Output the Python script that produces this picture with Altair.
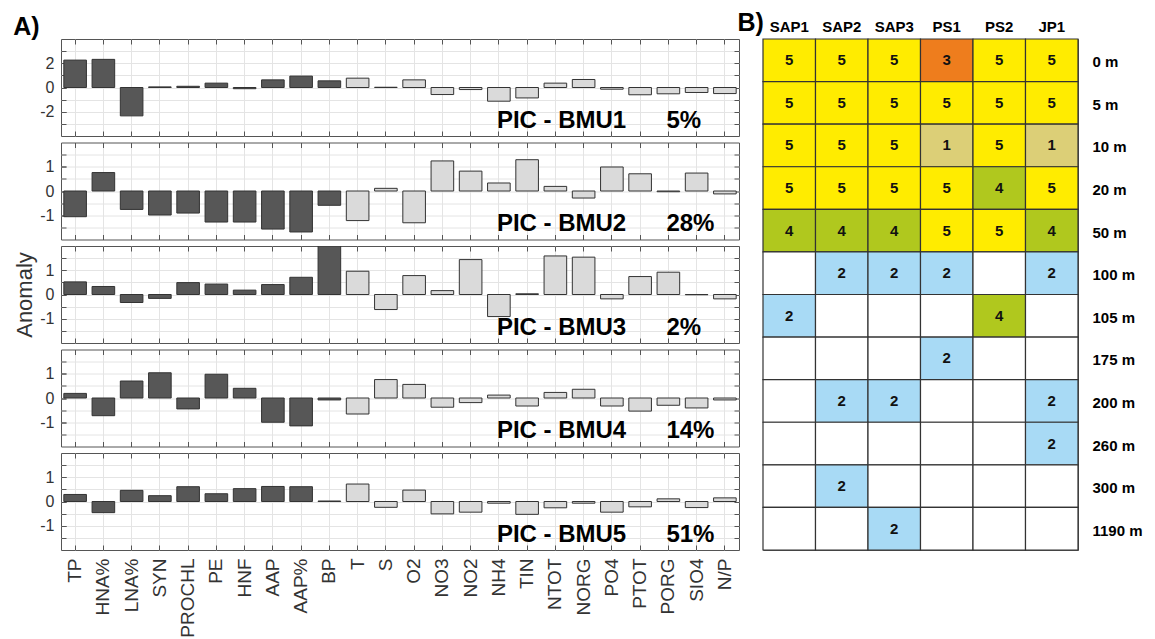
import altair as alt
import pandas as pd

FONT = "Liberation Sans"

# ---------------- Panel A data ----------------
variables = ["TP", "HNA%", "LNA%", "SYN", "PROCHL", "PE", "HNF", "AAP", "AAP%", "BP",
             "T", "S", "O2", "NO3", "NO2", "NH4", "TIN", "NTOT", "NORG", "PO4",
             "PTOT", "PORG", "SIO4", "N/P"]
var_groups = ["bio", "bio", "bio", "bio", "bio", "bio", "bio", "bio", "bio", "bio",
              "env", "env", "env", "env", "env", "env", "env", "env", "env", "env",
              "env", "env", "env", "env"]

bmu1 = [2.26, 2.32, -2.34, 0.05, 0.10, 0.36, -0.10, 0.63, 0.94, 0.55, 0.77, 0.02,
        0.63, -0.58, -0.17, -1.13, -0.86, 0.36, 0.66, -0.14, -0.60, -0.52, -0.41, -0.50]
bmu2 = [-1.06, 0.76, -0.76, -0.99, -0.91, -1.28, -1.28, -1.57, -1.69, -0.59, -1.22, 0.11,
        -1.31, 1.24, 0.82, 0.33, 1.29, 0.19, -0.29, 0.99, 0.71, -0.03, 0.74, -0.12]
bmu3 = [0.52, 0.33, -0.33, -0.16, 0.49, 0.43, 0.18, 0.41, 0.71, 2.00, 0.96, -0.62,
        0.78, 0.16, 1.44, -0.91, 0.03, 1.59, 1.54, -0.18, 0.74, 0.92, -0.01, -0.18]
bmu4 = [0.19, -0.73, 0.70, 1.04, -0.45, 0.98, 0.40, -1.00, -1.15, -0.08, -0.66, 0.76,
        0.56, -0.38, -0.19, 0.12, -0.33, 0.23, 0.36, -0.33, -0.54, -0.30, -0.41, -0.08]
bmu5 = [0.29, -0.46, 0.46, 0.24, 0.61, 0.32, 0.53, 0.62, 0.61, 0.02, 0.72, -0.24,
        0.47, -0.51, -0.44, -0.07, -0.53, -0.26, -0.07, -0.44, -0.22, 0.11, -0.25, 0.15]
series = [bmu1, bmu2, bmu3, bmu4, bmu5]

panel_names = ["PIC - BMU1", "PIC - BMU2", "PIC - BMU3", "PIC - BMU4", "PIC - BMU5"]
panel_pct = ["5%", "28%", "2%", "14%", "51%"]
y_domains = [[-4, 4], [-2, 2], [-2, 2], [-2, 2], [-2, 2]]
y_ticks_all = [[-3, -2, -1, 0, 1, 2, 3],
               [-1.5, -1, -0.5, 0, 0.5, 1, 1.5],
               [-1.5, -1, -0.5, 0, 0.5, 1, 1.5],
               [-1.5, -1, -0.5, 0, 0.5, 1, 1.5],
               [-1.5, -1, -0.5, 0, 0.5, 1, 1.5]]
y_ticks_major = [[-2, 0, 2], [-1, 0, 1], [-1, 0, 1], [-1, 0, 1], [-1, 0, 1]]

# ---------------- Panel B data ----------------
stations = ["SAP1", "SAP2", "SAP3", "PS1", "PS2", "JP1"]
depths = ["0 m", "5 m", "10 m", "20 m", "50 m", "100 m", "105 m", "175 m",
          "200 m", "260 m", "300 m", "1190 m"]
bmu_grid = [
    [5, 5, 5, 3, 5, 5],
    [5, 5, 5, 5, 5, 5],
    [5, 5, 5, 1, 5, 1],
    [5, 5, 5, 5, 4, 5],
    [4, 4, 4, 5, 5, 4],
    [None, 2, 2, 2, None, 2],
    [2, None, None, None, 4, None],
    [None, None, None, 2, None, None],
    [None, 2, 2, None, None, 2],
    [None, None, None, None, None, 2],
    [None, 2, None, None, None, None],
    [None, None, 2, None, None, None],
]
bmu_classes = ["1", "2", "3", "4", "5", ""]
bmu_colors = ["#dccf77", "#a8daf5", "#ee7d1d", "#b0c81e", "#ffec00", "#ffffff"]

# ---------------- Panel A ----------------
W, H = 678, 97
GRID = "#e4e4e4"
TICK = "#555555"
xscale = alt.Scale(domain=variables, paddingInner=0.2, paddingOuter=0.1)


def subplot(i):
    df = pd.DataFrame({"var": variables, "value": series[i], "group": var_groups})
    ydom = y_domains[i]
    yscale = alt.Scale(domain=ydom, nice=False, zero=False)
    last = i == len(series) - 1

    bars = alt.Chart(df).mark_bar(stroke="#333333", strokeWidth=1, clip=True).encode(
        x=alt.X("var:N", scale=xscale, title=None,
                axis=alt.Axis(orient="bottom", offset=-5, tickSize=5, tickColor=TICK,
                              domain=False, grid=True, gridColor=GRID, tickBand="center",
                              labels=last, labelAngle=-90, labelPadding=8, labelFontSize=19,
                              labelColor="#333333", labelOverlap=False, labelLimit=300)),
        y=alt.Y("value:Q", scale=yscale,
                title=("Anomaly" if i == 2 else None),
                axis=alt.Axis(orient="left", offset=-5, tickSize=5, tickColor=TICK,
                              values=y_ticks_major[i], labelExpr="'' + datum.value",
                              domain=False, grid=False,
                              labelOverlap=False, labelFontSize=16, labelColor="#333333",
                              labelPadding=7, titleFontSize=22, titleFontWeight="normal",
                              titleColor="#333333", titlePadding=3)),
        color=alt.Color("group:N", scale=alt.Scale(domain=["bio", "env"],
                                                   range=["#575757", "#dadada"]), legend=None),
    )

    ypos = ydom[0] + 0.0856 * (ydom[1] - ydom[0])
    tdf = pd.DataFrame({"var": ["NH4", "PORG"], "pos": [ypos, ypos],
                        "txt": [panel_names[i], panel_pct[i]]})
    texts = alt.Chart(tdf).mark_text(font=FONT, fontSize=24, fontWeight="bold", color="#000000",
                                     align="left", baseline="alphabetic", dx=-2).encode(
        x=alt.X("var:N", scale=xscale, axis=None),
        y=alt.Y("pos:Q", scale=yscale, axis=None),
        text="txt:N",
    )

    # frame ticks (top / right) + horizontal grid at every tick
    ghost = alt.Chart(df).mark_bar(opacity=0).encode(
        x=alt.X("var:N", scale=xscale, title=None,
                axis=alt.Axis(orient="top", offset=-5, tickSize=5, tickColor=TICK,
                              domain=False, grid=False, labels=False, tickBand="center")),
        y=alt.Y("value:Q", scale=yscale, title=None,
                axis=alt.Axis(orient="right", offset=-5, tickSize=5, tickColor=TICK,
                              values=y_ticks_all[i], domain=False, grid=True, gridColor=GRID,
                              labels=False)),
    )
    # minor ticks on the left side
    ghost2 = alt.Chart(df).mark_bar(opacity=0).encode(
        x=alt.X("var:N", scale=xscale, axis=None),
        y=alt.Y("value:Q", scale=yscale, title=None,
                axis=alt.Axis(orient="left", offset=-5, tickSize=5, tickColor=TICK,
                              values=y_ticks_all[i], domain=False, grid=False, labels=False)),
    )

    return alt.layer(bars, texts, ghost, ghost2).resolve_scale(
        x="independent", y="independent").properties(width=W, height=H)


panelA = alt.vconcat(*[subplot(i) for i in range(len(series))], spacing=4.5,
                     title=alt.TitleParams("A)", anchor="start", fontSize=25, fontWeight="bold",
                                           font=FONT, color="#000000", offset=-2, dx=0))

# ---------------- Panel B ----------------
rows = []
for r, depth in enumerate(depths):
    for c, st in enumerate(stations):
        v = bmu_grid[r][c]
        rows.append({"station": st, "depth": depth,
                     "bmu": "" if v is None else str(v),
                     "label": "" if v is None else str(v)})
dfB = pd.DataFrame(rows)

bx = alt.X("station:N", sort=stations, scale=alt.Scale(domain=stations, paddingInner=0, paddingOuter=0),
           title="B)",
           axis=alt.Axis(orient="top", ticks=False, tickSize=0, domain=False, grid=False,
                         labelAngle=0, labelFontSize=15, labelFontWeight="bold", labelColor="#000000",
                         labelPadding=5, titleX=-26, titleY=-9, titleAlign="left",
                         titleBaseline="alphabetic", titleAngle=0, titleFontSize=25,
                         titleFontWeight="bold", titleColor="#000000"))
by = alt.Y("depth:N", sort=depths, scale=alt.Scale(domain=depths, paddingInner=0, paddingOuter=0),
           title=None,
           axis=alt.Axis(orient="right", ticks=False, tickSize=0, domain=False, grid=False,
                         labelFontSize=15, labelFontWeight="bold", labelColor="#000000",
                         labelPadding=14, labelAlign="left", labelOffset=2))

cells = alt.Chart(dfB).mark_rect(stroke="#333333", strokeWidth=1.2).encode(
    x=bx, y=by,
    color=alt.Color("bmu:N", scale=alt.Scale(domain=bmu_classes, range=bmu_colors), legend=None),
)
nums = alt.Chart(dfB).mark_text(font=FONT, fontSize=15, fontWeight="bold", color="#111111").encode(
    x=alt.X("station:N", sort=stations), y=alt.Y("depth:N", sort=depths), text="label:N")

panelB = alt.layer(cells, nums).properties(width=315, height=511)

chart = alt.hconcat(panelA, panelB, spacing=-4).resolve_scale(color="independent").properties(
    padding={"left": 5, "top": 1, "right": 0, "bottom": 0}
).configure_view(stroke="#555555", strokeWidth=1).configure_axis(
    labelFont=FONT, titleFont=FONT
).configure_title(font=FONT)

chart.save("out.html", embed_options={"renderer": "svg", "actions": False})
